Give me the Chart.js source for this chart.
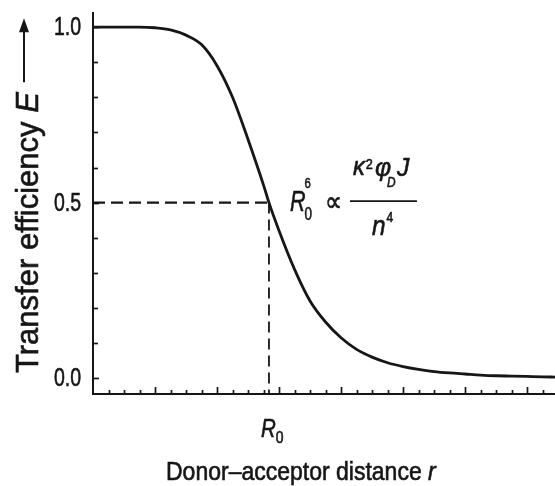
<!DOCTYPE html>
<html>
<head>
<meta charset="utf-8">
<script src="https://cdn.jsdelivr.net/npm/chart.js@4"></script>
<style>
  html, body { margin: 0; padding: 0; background: #fff; }
  #c { display: block; }
</style>
</head>
<body>
<canvas id="c" width="555" height="486"></canvas>
<script>
// ---- data (x in axis tick units, r=0 at the y axis) ----
const distance   = [0, 1, 2, 3, 4, 5, 6, 7, 8, 9, 10, 11, 11.35, 12, 13, 14, 15, 16, 17, 18, 19, 20, 21, 22, 23, 24, 25, 26, 27, 28, 29, 29.8];
const efficiency = [1.0, 1.0, 1.0, 1.0, 0.998, 0.992, 0.977, 0.95, 0.89, 0.80, 0.68, 0.55, 0.50, 0.42, 0.31, 0.22, 0.16, 0.115, 0.082, 0.06, 0.044, 0.033, 0.025, 0.019, 0.015, 0.012, 0.009, 0.007, 0.006, 0.005, 0.004, 0.003];
const R0 = 11.35;                     // Förster distance (x units)
const halfEfficiency = 0.5;
const yTickValues = [0, 0.5, 1.0];
const yTickLabels = ['0.0', '0.5', '1.0'];
const yMinorTicks = [0.1, 0.2, 0.3, 0.4, 0.6, 0.7, 0.8, 0.9];
const xMinorTicks = [1, 2, 3, 5, 6, 7, 9, 10, 11, 13, 14, 15, 17, 18, 19, 21, 22, 23, 25, 26, 27, 29];
const xMajorTicks = [4, 8, 12, 16, 20, 24, 28];
const xMin = 0, xMax = 29.8, yMin = -0.045, yMax = 1.04;

const FONT = '"Liberation Sans", Arial, sans-serif';
const INK = '#161616';

function txt(ctx, s, x, y, font, sx, align, base) {
  ctx.save();
  ctx.translate(x, y);
  ctx.scale(sx, 1);
  ctx.font = font;
  ctx.textAlign = align || 'left';
  ctx.textBaseline = base || 'alphabetic';
  ctx.fillStyle = INK; ctx.strokeStyle = INK; ctx.lineWidth = 0.6;
  ctx.fillText(s, 0, 0);
  ctx.strokeText(s, 0, 0);
  const w = ctx.measureText(s).width * sx;
  ctx.restore();
  return w;
}

const decor = {
  id: 'decor',
  beforeDraw(chart) {
    const c = chart.ctx;
    c.save(); c.fillStyle = '#fff'; c.fillRect(0, 0, chart.width, chart.height); c.restore();
  },
  afterDraw(chart) {
    const c = chart.ctx;
    const xs = chart.scales.x, ys = chart.scales.y;
    const left = chart.chartArea.left, bottom = chart.chartArea.bottom;
    c.save();
    c.strokeStyle = INK; c.fillStyle = INK; c.lineWidth = 1.7;
    // y ticks (inward)
    yTickValues.forEach(v => { const y = Math.round(ys.getPixelForValue(v)) + 0.5; c.beginPath(); c.moveTo(left, y); c.lineTo(left + 6, y); c.stroke(); });
    yMinorTicks.forEach(v => { const y = Math.round(ys.getPixelForValue(v)) + 0.5; c.beginPath(); c.moveTo(left, y); c.lineTo(left + 5, y); c.stroke(); });
    // x ticks (inward)
    xMinorTicks.forEach(v => { const x = Math.round(xs.getPixelForValue(v)) + 0.5; c.beginPath(); c.moveTo(x, bottom); c.lineTo(x, bottom - 4); c.stroke(); });
    xMajorTicks.forEach(v => { const x = Math.round(xs.getPixelForValue(v)) + 0.5; c.beginPath(); c.moveTo(x, bottom); c.lineTo(x, bottom - 7); c.stroke(); });
    // y tick labels
    yTickValues.forEach((v, i) => txt(c, yTickLabels[i], left - 12, ys.getPixelForValue(v) + 1, '26px ' + FONT, 0.75, 'right', 'middle'));
    // y title (rotated)
    c.save();
    c.translate(38, 373);
    c.rotate(-Math.PI / 2);
    let w = txt(c, 'Transfer efficiency ', 0, 0, '31px ' + FONT, 1, 'left');
    w += txt(c, 'E', w, 0, 'italic 31px ' + FONT, 1, 'left') + 10;
    // arrow
    c.lineWidth = 2;
    c.beginPath(); c.moveTo(w, -14); c.lineTo(w + 52, -14); c.stroke();
    c.beginPath(); c.moveTo(w + 64, -14); c.lineTo(w + 50, -19); c.lineTo(w + 50, -9); c.closePath(); c.fill();
    c.restore();
    // R0 tick label
    const xr = xs.getPixelForValue(R0);
    let rw = txt(c, 'R', xr - 8, 437, 'italic 25px ' + FONT, 0.82, 'left');
    txt(c, '0', xr - 8 + rw, 443, '17px ' + FONT, 0.82, 'left');
    // x title
    const tx = 166;
    let xw = txt(c, 'Donor\u2013acceptor distance ', tx, 480, '25px ' + FONT, 0.92, 'left');
    txt(c, 'r', tx + xw, 480, 'italic 25px ' + FONT, 0.92, 'left');
    // formula: R0^6 ∝ κ²φ_D J / n⁴
    const fy = ys.getPixelForValue(halfEfficiency);
    const fx = xr + 21;
    let fw = txt(c, 'R', fx, fy + 8, 'italic 30px ' + FONT, 0.72, 'left');
    txt(c, '0', fx + fw - 1, fy + 17, '18px ' + FONT, 0.75, 'left');
    txt(c, '6', fx + fw - 1, fy - 15, '15px ' + FONT, 0.75, 'left');
    txt(c, '\u221D', fx + 35, fy + 8, '28px ' + FONT, 0.85, 'left');
    c.lineWidth = 1.7;
    c.beginPath(); c.moveTo(fx + 60, fy - 1.5); c.lineTo(fx + 127, fy - 1.5); c.stroke();
    let nx = fx + 63;
    nx += txt(c, '\u03BA', nx, fy - 28, 'italic 25px ' + FONT, 0.95, 'left');
    nx += txt(c, '2', nx + 1, fy - 34, '15px ' + FONT, 0.85, 'left') + 3;
    const phw = txt(c, '\u03C6', nx, fy - 27, 'italic 26px ' + FONT, 0.95, 'left');
    txt(c, 'D', nx + phw - 4, fy - 16, 'italic 14px ' + FONT, 0.85, 'left');
    nx += phw + 6;
    txt(c, 'J', nx, fy - 27, 'italic 26px ' + FONT, 0.95, 'left');
    let dx = fx + 82;
    dx += txt(c, 'n', dx, fy + 32, 'italic 27px ' + FONT, 0.9, 'left');
    txt(c, '4', dx + 1, fy + 19, '15px ' + FONT, 0.8, 'left');
    c.restore();
  }
};

new Chart(document.getElementById('c'), {
  type: 'line',
  data: {
    datasets: [
      {
        data: distance.map((x, i) => ({ x, y: efficiency[i] })),
        borderColor: INK, borderWidth: 2.8, pointRadius: 0,
        cubicInterpolationMode: 'monotone', fill: false
      },
      {
        data: [{ x: xMin, y: halfEfficiency }, { x: R0, y: halfEfficiency }],
        borderColor: INK, borderWidth: 2.2, borderDash: [12, 6], pointRadius: 0, fill: false
      },
      {
        data: [{ x: R0, y: halfEfficiency }, { x: R0, y: yMin }],
        borderColor: INK, borderWidth: 1.8, borderDash: [11, 6], pointRadius: 0, fill: false
      }
    ]
  },
  options: {
    responsive: false,
    animation: false,
    devicePixelRatio: 1,
    layout: { padding: { left: 93, top: 13, right: 0, bottom: 92 } },
    plugins: { legend: { display: false }, tooltip: { enabled: false }, title: { display: false } },
    scales: {
      x: {
        type: 'linear', min: xMin, max: xMax,
        grid: { display: false, drawTicks: false },
        border: { display: true, color: INK, width: 2 },
        ticks: { display: false }
      },
      y: {
        type: 'linear', min: yMin, max: yMax,
        grid: { display: false, drawTicks: false },
        border: { display: true, color: INK, width: 2 },
        ticks: { display: false }
      }
    }
  },
  plugins: [decor]
});
</script>
</body>
</html>
